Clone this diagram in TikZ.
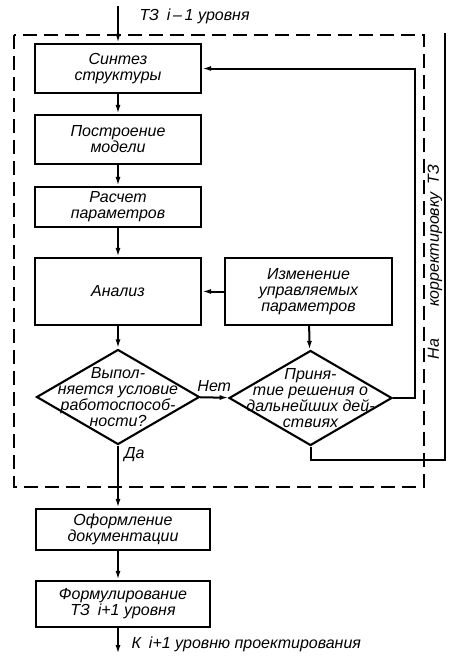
\documentclass[tikz,border=0pt]{standalone}
\usepackage{fontspec}
\setmainfont{Liberation Sans}
\tikzset{every picture/.style={/utils/exec={\itshape\fontsize{16}{16}\selectfont}}}
\usetikzlibrary{arrows.meta}
\usetikzlibrary{shapes.geometric}
\tikzset{
  block/.style={draw, line width=2.1pt, minimum width=166pt, align=center, inner sep=2pt},
  decision/.style={draw, diamond, line width=2.1pt, minimum width=163pt, minimum height=95pt, inner sep=0pt},
  ask/.style={align=center, inner sep=0pt},
  flow/.style={line width=2pt, -{Latex[length=9pt,width=5pt]}},
  link/.style={line width=2pt},
  frame/.style={line width=1.7pt, dash pattern=on 14pt off 7pt},
}

\begin{document}
\begin{tikzpicture}[x=1pt, y=-1pt]
  \useasboundingbox (0,0) rectangle (448,656);

  \draw [frame] (14,35) rectangle (424,487); 

  \node [block, minimum height=49pt] (synth) at (118,68.5) {Синтез\\структуры}; 
  \node [block, minimum height=49pt] (model) at (118,139.5) {Построение\\модели}; 
  \node [block, minimum height=40pt] (calc) at (118,207) {Расчет\\параметров}; 
  \node [block, minimum height=67pt] (analysis) at (118,291.5) {Анализ}; 
  \node [block, minimum height=67pt, minimum width=167pt] (change) at (308.5,291.5) {Изменение\\управляемых\\параметров}; 

  \node [decision] (check) at (118,397) {}; 
  \node [ask] (checktxt) at (check) {Выпол-\\няется условие\\работоспособ-\\ности?}; 
  \node [decision] (decide) at (310.5,398) {}; 
  \node [ask] (decidetxt) at (decide) {Приня-\\тие решения о\\дальнейших дей-\\ствиях}; 

  \node [block, minimum width=174pt, minimum height=41pt] (docs) at (123,529.5) {Оформление\\документации}; 
  \node [block, minimum width=174pt, minimum height=46pt] (spec) at (123,604) {Формулирование\\ТЗ\enspace i+1 уровня}; 

  % free ends of the in/out lines
  \coordinate (in) at (118,6);
  \coordinate (out) at (118,654);
  \coordinate (up) at (445,33);

  \node [anchor=west] (intxt) at (134,16) {ТЗ\enspace i\,–\,1 уровня}; 
  \node [anchor=west] (outtxt) at (126,644) {К\enspace i+1 уровню проектирования}; 
  \node [rotate=90] (fixtxt) at (435,262) {На\qquad корректировку\enspace ТЗ}; 

  \draw [flow] (in) -- (synth);
  \draw [flow] (synth) -- (model);
  \draw [flow] (model) -- (calc);
  \draw [flow] (calc) -- (analysis);
  \draw [flow] (analysis) -- (check);
  \draw [flow] (change) -- (analysis);
  \draw [flow] (change) -- (decide);
  \draw [flow] (check) -- node [above] (no) {Нет} (decide);
  \draw [flow] (check) -- node [right, pos=0.15] (yes) {Да} (in |- docs.north);
  \draw [flow] (in |- docs.south) -- (in |- spec.north);
  \draw [flow] (in |- spec.south) -- (out);

  % back to synthesis, and out to the TZ correction
  \draw [flow] (decide.east) -- ++(22,0) |- (synth.east);
  \draw [link] (decide.south) -- ++(0,13) -| (up);
\end{tikzpicture}
\end{document}
